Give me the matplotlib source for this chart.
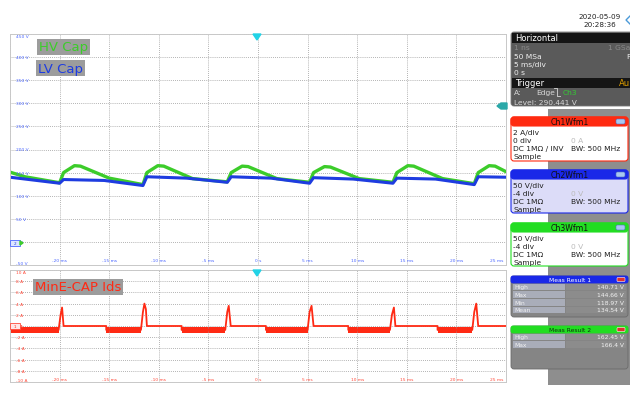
import numpy as np
import matplotlib.pyplot as plt
from matplotlib.patches import FancyBboxPatch, Rectangle, Polygon

# waveform data (time in ms)
hv_t = [-25, -23.5, -20.0, -19.6, -18.5, -17.9, -15.0, -11.6, -11.2, -10.1, -9.5, -6.6,
        -3.1, -2.7, -1.6, -1.0, 1.9, 5.2, 5.6, 6.7, 7.3, 10.2, 13.6, 14.0, 15.1, 15.7,
        18.6, 21.8, 22.2, 23.3, 23.9, 25]
hv_v = [151, 141, 128, 150, 165, 164, 138, 124, 150, 165, 164, 137, 130, 150, 164, 163,
        137, 129, 150, 163, 162, 137, 129, 150, 165, 164, 137, 126, 150, 165, 164, 152]

lv_t = [-25, -20.0, -19.6, -15.5, -11.6, -11.2, -7.2, -3.1, -2.7, 1.3, 5.2, 5.6, 9.6,
        13.6, 14.0, 17.9, 21.8, 22.2, 25]
lv_v = [140, 127, 135, 133, 122, 141, 138, 129, 141, 138, 127, 139, 136, 127, 138, 136,
        124, 141, 140]

ids_t = [-25, -20.1, -19.9, -19.75, -19.6, -15.3, -15.3, -11.8, -11.6, -11.45, -11.3, -11.2,
         -7.7, -7.7, -3.3, -3.1, -2.95, -2.75, 0.8, 0.8, 5.0, 5.2, 5.4, 5.6, 9.1, 9.1,
         13.3, 13.5, 13.7, 13.85, 18.1, 18.1, 21.6, 21.8, 22.0, 22.2, 25]
ids_a = [-0.7, -0.7, 2.0, 3.3, 0.0, 0.0, -0.7, -0.7, 2.5, 4.0, 3.0, 0.0,
         0.0, -0.7, -0.7, 2.5, 3.6, 0.0, 0.0, -0.7, -0.7, 2.5, 3.6, 0.0, 0.0, -0.7,
         -0.7, 2.0, 3.3, 0.0, 0.0, -0.7, -0.7, 2.5, 4.0, 0.0, 0.0]
band_start = [-25.0, -15.3, -7.7, 0.8, 9.1, 18.1]
band_end = [-20.1, -11.8, -3.3, 5.0, 13.3, 21.6]

v_ticks = [450, 400, 350, 300, 250, 200, 150, 100, 50, 0, -50]
a_ticks = [10, 8, 6, 4, 2, 0, -2, -4, -6, -8, -10]
t_ticks = [-20, -15, -10, -5, 0, 5, 10, 15, 20, 25]
t_labels = ['-20 ms', '-15 ms', '-10 ms', '-5 ms', '0 s', '5 ms', '10 ms', '15 ms', '20 ms', '25 ms']

GREEN = '#3ccc2a'
BLUE = '#1e3ce0'
RED = '#ff2a14'
LBLUE = '#4a66ff'
LRED = '#ff4a3a'

fig = plt.figure(figsize=(6.3, 4.02), dpi=100)
W, H = 630, 402


def frac(x0, y0, x1, y1):
    return [x0 / W, 1 - y1 / H, (x1 - x0) / W, (y1 - y0) / H]


ax1 = fig.add_axes(frac(10, 35, 506, 266))
ax2 = fig.add_axes(frac(10, 271, 506, 383))

for ax in (ax1, ax2):
    ax.set_xlim(-25, 25)
    ax.set_xticks(np.arange(-25, 26, 5))
    ax.tick_params(length=0, labelbottom=False, labelleft=False)
    ax.grid(True, ls=(0, (1, 1.5)), color='#9a9a9a', lw=0.6)
    for s in ax.spines.values():
        s.set_color('#c8c8c8')
        s.set_linewidth(0.7)

ax1.set_ylim(-50, 450)
ax1.set_yticks(v_ticks)
ax2.set_ylim(-10, 10)
ax2.set_yticks(a_ticks)

ax1.plot(hv_t, hv_v, color=GREEN, lw=2.4, solid_joinstyle='round')
ax1.plot(lv_t, lv_v, color=BLUE, lw=2.2, solid_joinstyle='round')

for s, e in zip(band_start, band_end):
    ax2.fill_between([s, e], [-1.3, -1.3], [-0.1, -0.1], color=RED, lw=0)
ax2.plot(ids_t, ids_a, color=RED, lw=1.3)

# scale labels drawn inside the grid like the scope does
for v in v_ticks:
    va = 'top' if v == 450 else ('bottom' if v == -50 else 'center')
    ax1.text(0.012, v, '%d V' % v, transform=ax1.get_yaxis_transform(), fontsize=3.2,
             color=LBLUE, ha='left', va=va)
for a in a_ticks:
    va = 'top' if a == 10 else ('bottom' if a == -10 else 'center')
    ax2.text(0.012, a, '%d A' % a, transform=ax2.get_yaxis_transform(), fontsize=3.2,
             color=LRED, ha='left', va=va)
for ax, col in ((ax1, LBLUE), (ax2, LRED)):
    for t, lab in zip(t_ticks, t_labels):
        ha = 'right' if t == 25 else 'center'
        ax.text(t - (0.3 if t == 25 else 0), 0.012, lab, transform=ax.get_xaxis_transform(),
                fontsize=3.2, color=col, ha=ha, va='bottom')

# overlay in pixel coordinates for annotations and side panel
ov = fig.add_axes([0, 0, 1, 1])
ov.set_xlim(0, W)
ov.set_ylim(H, 0)
ov.axis('off')
ov.patch.set_alpha(0)

ov.text(39, 48, 'HV Cap', color=GREEN, fontsize=9.5, va='center', ha='left',
        bbox=dict(facecolor='#9c9c9c', edgecolor='none', pad=1.2))
ov.text(38, 69, 'LV Cap', color=BLUE, fontsize=9.5, va='center', ha='left',
        bbox=dict(facecolor='#9c9c9c', edgecolor='none', pad=1.2))
ov.text(35, 288, 'MinE-CAP Ids', color=RED, fontsize=9.5, va='center', ha='left',
        bbox=dict(facecolor='#9c9c9c', edgecolor='none', pad=1.2))

# trigger position / level markers
for y0 in (35, 271):
    ov.add_patch(Polygon([[253, y0], [261, y0], [257, y0 + 6]], closed=True, color='#22d3e6'))
ov.add_patch(Polygon([[497, 107], [501, 104], [507, 104], [507, 110], [501, 110]],
                     closed=True, color='#2aa8a8'))
ov.add_patch(Rectangle((10, 241), 10, 6, facecolor='#dde6ff', edgecolor=LBLUE, lw=0.6))
ov.text(15, 244, '2', fontsize=3, color=BLUE, ha='center', va='center')
ov.add_patch(Polygon([[20, 242], [23, 244], [20, 246]], closed=True, color=GREEN))
ov.add_patch(Rectangle((10, 324), 10, 6, facecolor='#ffe6e6', edgecolor=LRED, lw=0.6))
ov.text(15, 327, '1', fontsize=3, color=RED, ha='center', va='center')

# timestamp
ov.text(600, 17, '2020-05-09', fontsize=5.2, ha='center', va='center', color='#222222')
ov.text(600, 25, '20:28:36', fontsize=5.2, ha='center', va='center', color='#222222')
ov.add_patch(Polygon([[626, 21], [631, 16], [631, 26]], closed=True, fc='white', ec='#4a9ad8', lw=1))

# side panel grey background
ov.add_patch(Rectangle((548, 110), 82, 276, color='#8e8e8e', lw=0))

# Horizontal / trigger box
ov.add_patch(FancyBboxPatch((511, 33), 125, 74, boxstyle='round,pad=0,rounding_size=3',
                            fc='#5a5a5a', ec='#777777', lw=0.6))
ov.add_patch(Rectangle((511.5, 33.5), 125, 10, color='#151515', lw=0))
ov.add_patch(Rectangle((511.5, 79), 125, 10, color='#151515', lw=0))
fs = 5.4
ov.text(515, 38.5, 'Horizontal', color='white', fontsize=6, va='center')
ov.text(514, 48, '1 ns', color='#8a8a8a', fontsize=fs, va='center')
ov.text(630, 48, '1 GSa', color='#8a8a8a', fontsize=fs, va='center', ha='right')
ov.text(514, 57, '50 MSa', color='#f0f0f0', fontsize=fs, va='center')
ov.text(626, 57, 'P', color='#f0f0f0', fontsize=fs, va='center')
ov.text(514, 65, '5 ms/div', color='#f0f0f0', fontsize=fs, va='center')
ov.text(514, 73, '0 s', color='#f0f0f0', fontsize=fs, va='center')
ov.text(515, 84, 'Trigger', color='white', fontsize=6, va='center')
ov.text(619, 84, 'Au', color='#e0a000', fontsize=6, va='center')
ov.text(514, 93, 'A:', color='#d8d8d8', fontsize=fs, va='center')
ov.text(536, 93, 'Edge', color='#d8d8d8', fontsize=fs, va='center')
ov.plot([554, 557, 557, 560], [89, 89, 97, 97], color='#d8d8d8', lw=0.6)
ov.text(563, 93, 'Ch3', color='#33cc33', fontsize=fs, va='center')
ov.text(514, 103, 'Level: 290.441 V', color='#d8d8d8', fontsize=fs, va='center')


def ch_box(y0, y1, col, body, title, rows):
    ov.add_patch(FancyBboxPatch((511, y0), 117, y1 - y0, boxstyle='round,pad=0,rounding_size=3',
                                fc=body, ec=col, lw=0.8))
    ov.add_patch(FancyBboxPatch((511, y0), 117, 9, boxstyle='round,pad=0,rounding_size=3',
                                fc=col, ec=col, lw=0.8))
    ov.text(570, y0 + 4.8, title, fontsize=5.6, color='#101010', ha='center', va='center')
    ov.add_patch(FancyBboxPatch((616, y0 + 2), 9, 5, boxstyle='round,pad=0,rounding_size=1.5',
                                fc='#a8c8f0', ec='#5070c0', lw=0.4))
    for i, (left, right, rcol) in enumerate(rows):
        yy = y0 + 15 + 8 * i
        ov.text(513, yy, left, fontsize=fs, color='#202020', va='center')
        if right:
            ov.text(571, yy, right, fontsize=fs, color=rcol, va='center')


ch_box(118, 162, '#ff2a10', 'white', 'Ch1Wfm1',
       [('2 A/div', '', ''), ('0 div', '0 A', '#bbbbbb'),
        ('DC 1M\u03a9 / INV', 'BW: 500 MHz', '#202020'), ('Sample', '', '')])
ch_box(171, 214, '#1a28e8', '#dcdcf8', 'Ch2Wfm1',
       [('50 V/div', '', ''), ('-4 div', '0 V', '#bbbbbb'),
        ('DC 1M\u03a9', 'BW: 500 MHz', '#202020'), ('Sample', '', '')])
ch_box(224, 267, '#22dd22', 'white', 'Ch3Wfm1',
       [('50 V/div', '', ''), ('-4 div', '0 V', '#bbbbbb'),
        ('DC 1M\u03a9', 'BW: 500 MHz', '#202020'), ('Sample', '', '')])


def meas_box(y0, y1, col, title, rows):
    ov.add_patch(FancyBboxPatch((511, y0), 117, y1 - y0, boxstyle='round,pad=0,rounding_size=3',
                                fc='#858585', ec='#6a6a6a', lw=0.6))
    ov.add_patch(FancyBboxPatch((511, y0), 117, 7, boxstyle='round,pad=0,rounding_size=2',
                                fc=col, ec=col, lw=0.6))
    ov.text(570, y0 + 3.8, title, fontsize=4.3, color='white' if col != '#22dd22' else '#103010',
            ha='center', va='center')
    ov.add_patch(FancyBboxPatch((617, y0 + 1.5), 8, 4, boxstyle='round,pad=0,rounding_size=1',
                                fc='#e03030', ec='white', lw=0.4))
    for i, (lab, val) in enumerate(rows):
        yy = y0 + 11 + 7.6 * i
        ov.add_patch(Rectangle((513, yy - 3.3), 52, 6.6, color='#a9adb9', lw=0))
        ov.add_patch(Rectangle((566, yy - 3.3), 60, 6.6, color='#8c8c8c', lw=0))
        ov.text(514, yy, lab, fontsize=4.3, color='#f2f2f2', va='center')
        ov.text(624, yy, val, fontsize=4.3, color='#f2f2f2', va='center', ha='right')


meas_box(277, 318, '#1a28e8', 'Meas Result 1',
         [('High', '140.71 V'), ('Max', '144.66 V'), ('Min', '118.97 V'), ('Mean', '134.54 V')])
meas_box(327, 370, '#22dd22', 'Meas Result 2',
         [('High', '162.45 V'), ('Max', '166.4 V')])

fig.savefig('out.png', dpi=100)
